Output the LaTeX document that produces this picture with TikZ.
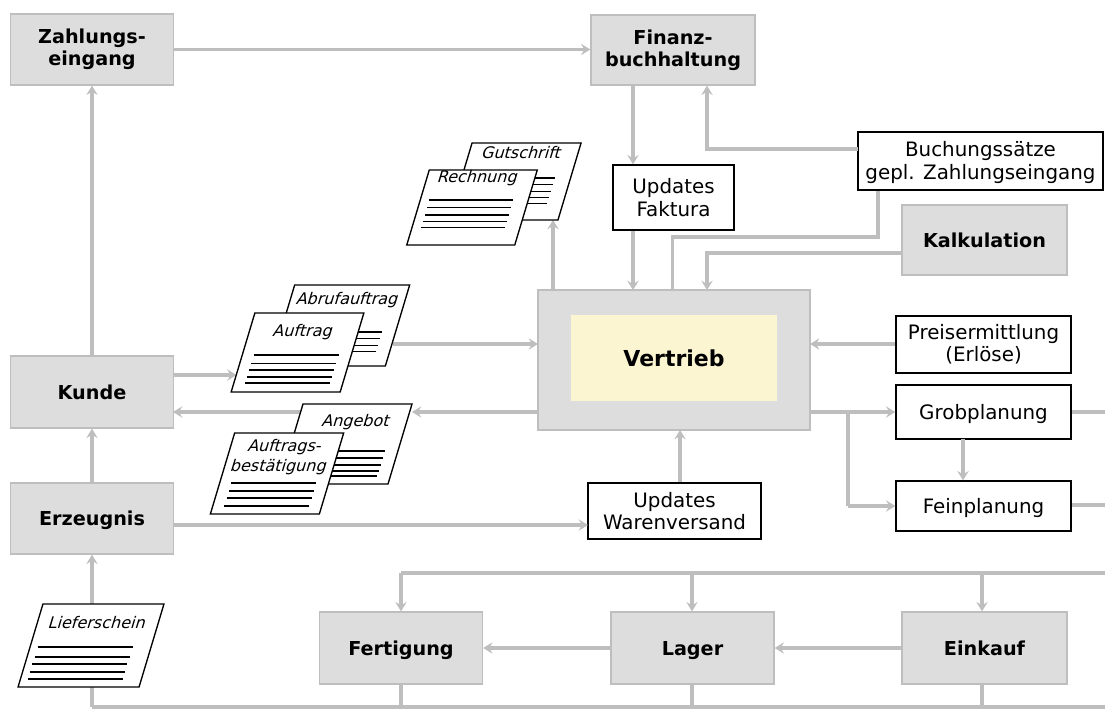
\documentclass[tikz,border=0pt]{standalone}
\usepackage{fontspec}
\setmainfont{DejaVu Sans}
\usetikzlibrary{arrows.meta}
\definecolor{conn}{HTML}{BEBEBE}
\definecolor{boxgray}{HTML}{DDDDDD}
\definecolor{core}{HTML}{FCF5D2}
\tikzset{
  grayblock/.style={draw=conn,line width=1pt,fill=boxgray,inner sep=0pt,align=center,font=\fontsize{14.4}{16.5}\selectfont\bfseries},
  whitebox/.style={draw=black,line width=1pt,fill=white,inner sep=0pt,align=center,font=\fontsize{14.9}{16.8}\selectfont},
  capcenter/.style={text height=10.6pt,text depth=0pt},
  flow/.style={draw=conn,line width=2.3pt,-{Stealth[length=7pt,width=8.5pt,inset=2.5pt]}},
  plainflow/.style={draw=conn,line width=2.3pt},
  sheet/.style={draw=black,line width=1pt,fill=white,inner sep=0pt,transform shape},
  sheettext/.style={inner sep=0pt,align=center,transform shape,font=\fontsize{12}{15.5}\selectfont},
  sheetline/.style={draw=black,line width=0.9pt}
}
% name, cx, cy, w, h, lines (y/left/right), text position, text
\newcommand{\docsheet}[8]{%
  \begin{scope}[shift={(#2,#3)},xslant=0.3]
    \node[sheet,minimum width=#4*0.75pt,minimum height=#5*0.75pt] (#1) at (0,0) {};
    \foreach \ly/\lx/\rx in {#6} {\draw[sheetline] (\lx,\ly) -- (\rx,\ly);}
    \node[sheettext] (#1text) at (#7) {#8};
  \end{scope}}
\begin{document}
\begin{tikzpicture}[x=0.75pt,y=-0.75pt]
\useasboundingbox (0,0) rectangle (1105,709);

% free ends and ports
\coordinate (vGut) at (553,290);
\coordinate (gutIn) at (553,220);
\coordinate (vFak) at (633,290);
\coordinate (vBuch) at (672.5,290);
\coordinate (vKalk) at (707,290);
\coordinate (vWare) at (680,430);
\coordinate (vAuf) at (538,344);
\coordinate (abrufOut) at (393,344);
\coordinate (vAng) at (538,412);
\coordinate (angIn) at (412,412);
\coordinate (angOut) at (300,412);
\coordinate (aufIn) at (236.5,375);
\coordinate (vPreis) at (810,344);
\coordinate (vPlan) at (810,412);
\coordinate (branch) at (848,412);
\coordinate (branchEnd) at (848,506);
\coordinate (rGrob) at (1105,412);
\coordinate (rFein) at (1105,505);
\coordinate (rTop) at (1105,573);
\coordinate (rBot) at (1105,707);
\coordinate (topL) at (401,573);
\coordinate (topM) at (692,573);
\coordinate (topR) at (982,573);
\coordinate (botL) at (92,707);
\coordinate (botF) at (401,707);
\coordinate (botM) at (692,707);
\coordinate (botR) at (982,707);
\coordinate (buchElbow) at (878,237);
\coordinate (buchBend) at (707,149);
\coordinate (buchOut) at (858,149);
\coordinate (kalkBend) at (707,253);
\coordinate (kalkOut) at (902,253);
\coordinate (grobDown) at (963,439);
\coordinate (erzOut) at (173,525);
\coordinate (wareIn) at (588,525);
\coordinate (kunOut) at (173,375);
\coordinate (kunIn) at (173,412);

% blocks
\node[grayblock,minimum width=163*0.75pt,minimum height=71*0.75pt] (zahl) at (92,49.5) {Zahlungs-\\eingang};
\node[grayblock,minimum width=164*0.75pt,minimum height=70*0.75pt] (fin) at (673,50) {Finanz-\\buchhaltung};
\node[grayblock,capcenter,minimum width=165*0.75pt,minimum height=70*0.75pt] (kalk) at (984.5,240) {Kalkulation};
\node[draw=conn,line width=1pt,fill=boxgray,inner sep=0pt,minimum width=272*0.75pt,minimum height=140*0.75pt] (vert) at (674,360) {};
\node[fill=core,inner sep=0pt,minimum width=206*0.75pt,minimum height=86*0.75pt,font=\fontsize{16.5}{20}\selectfont\bfseries] (core) at (674,358) {Vertrieb};
\node[grayblock,capcenter,minimum width=163*0.75pt,minimum height=72*0.75pt] (kunde) at (92,392) {Kunde};
\node[grayblock,capcenter,minimum width=163*0.75pt,minimum height=71*0.75pt] (erz) at (92,518.5) {Erzeugnis};
\node[grayblock,capcenter,minimum width=163*0.75pt,minimum height=72*0.75pt] (fert) at (401,648) {Fertigung};
\node[grayblock,capcenter,minimum width=163*0.75pt,minimum height=72*0.75pt] (lager) at (692.5,648) {Lager};
\node[grayblock,capcenter,minimum width=165*0.75pt,minimum height=72*0.75pt] (eink) at (984.5,648) {Einkauf};

% white boxes
\node[whitebox,minimum width=121*0.75pt,minimum height=65*0.75pt] (fak) at (673.5,197.5) {Updates\\Faktura};
\node[whitebox,minimum width=245*0.75pt,minimum height=58*0.75pt] (buch) at (980.5,161) {\rule{0pt}{13.5pt}Buchungssätze\\gepl. Zahlungseingang};
\node[whitebox,minimum width=175*0.75pt,minimum height=57*0.75pt] (preis) at (983.5,344.5) {Preisermittlung\\(Erlöse)};
\node[whitebox,capcenter,minimum width=175*0.75pt,minimum height=54*0.75pt] (grob) at (983.5,412) {Grobplanung};
\node[whitebox,capcenter,minimum width=175*0.75pt,minimum height=50*0.75pt] (fein) at (983.5,506) {Feinplanung};
\node[whitebox,minimum width=173*0.75pt,minimum height=56*0.75pt] (ware) at (674.5,511) {Updates\\Warenversand};

% connectors
\draw[flow] (zahl.east) -- (zahl.east -| fin.west);
\draw[flow] (kunde.north) -- (zahl.south);
\draw[flow] (erz.north) -- (kunde.south);
\draw[plainflow] (botL) -- (rBot);
\draw[plainflow] (fert.south) -- (fert.south |- botF);
\draw[plainflow] (lager.south -| botM) -- (botM);
\draw[plainflow] (eink.south -| botR) -- (botR);
\draw[plainflow] (topL) -- (rTop);
\draw[flow] (topL) -- (fert.north);
\draw[flow] (topM) -- (topM |- lager.north);
\draw[flow] (topR) -- (topR |- eink.north);
\draw[flow] (eink.west) -- (lager.east);
\draw[flow] (lager.west) -- (fert.east);
\draw[flow] (fin.south -| vFak) -- (fak.north -| vFak);
\draw[flow] (fak.south -| vFak) -- (vFak);
\draw[flow] (buchOut) -- (buchBend) -- (fin.south -| buchBend);
\draw[plainflow] (vBuch) -- (vBuch |- buchElbow) -- (buchElbow) -- (buch.south -| buchElbow);
\draw[flow] (kalkOut) -- (kalkBend) -- (vKalk);
\draw[flow] (preis.west |- vPreis) -- (vPreis);
\draw[flow] (vPlan) -- (grob.west);
\draw[plainflow] (branch) -- (branchEnd);
\draw[flow] (branchEnd) -- (fein.west);
\draw[flow] (grobDown) -- (fein.north -| grobDown);
\draw[plainflow] (grob.east) -- (rGrob);
\draw[plainflow] (fein.east |- rFein) -- (rFein);
\draw[flow] (ware.north -| vWare) -- (vWare);
\draw[flow] (erzOut) -- (wareIn);
\draw[flow] (vGut) -- (gutIn);
\draw[flow] (kunOut) -- (aufIn);
\draw[flow] (abrufOut) -- (vAuf);
\draw[flow] (vAng) -- (angIn);
\draw[flow] (angOut) -- (kunIn);
\draw[flow] (botL) -- (botL |- erz.south);

% documents
\docsheet{gut}{515}{181.5}{109}{77}{-3.5/-45/39,3/-45/39,10/-45/39,16/-45/39,22/-45/39}{-1.5,-28.5}{Gutschrift}
\docsheet{rech}{472}{207.5}{108}{75}{-7.5/-45/39,0/-45/39,7.5/-45/39,14/-45/39,20/-45/39}{-3,-29.5}{Rechnung}
\docsheet{abruf}{340}{325.5}{115}{81}{6.5/-45/44,13/-45/44,20/-45/44,26/-45/44}{0,-25.5}{Abrufauftrag}
\docsheet{auf}{297.5}{352.5}{109}{79}{2.5/-43/42,11/-43/42,17.5/-43/42,24.5/-43/42,30.5/-43/42}{-0.5,-20.5}{Auftrag}
\docsheet{ang}{345.5}{444}{109}{80}{7/-45/41.5,14/-45/41.5,21/-45/41.5,27/-45/41.5,32/-45/41.5}{4,-22}{Angebot}
\docsheet{best}{277}{473.5}{109}{81}{9.5/-43/42,17.5/-43/42,24.5/-43/42,32.5/-43/42}{0,-16.5}{Auftrags-\\bestätigung}
\docsheet{lief}{91}{645.5}{121}{83}{1.5/-53/42,11.5/-53/42,18.5/-53/42,26.5/-53/42,33.5/-53/42}{0,-22.5}{Lieferschein}
\end{tikzpicture}
\end{document}
